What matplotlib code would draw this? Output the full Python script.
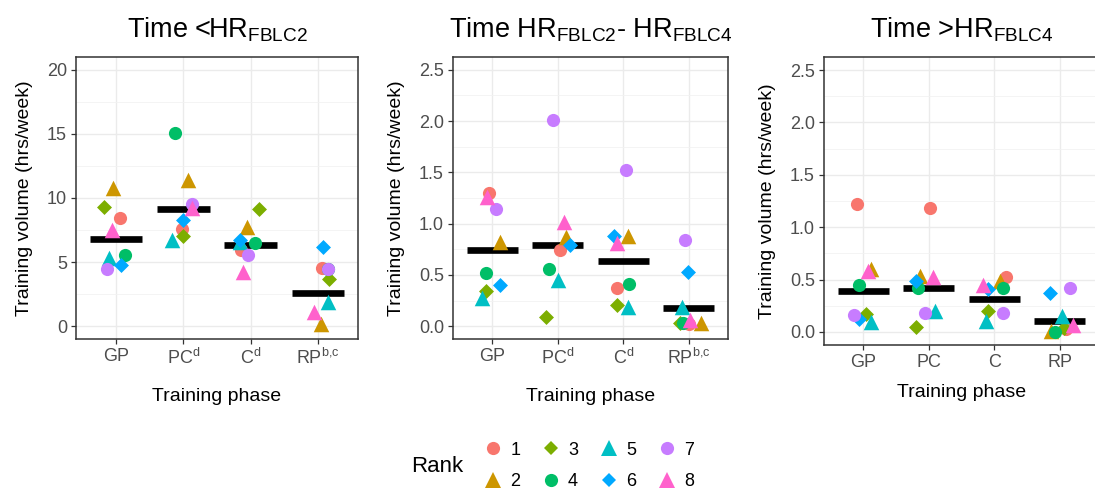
import numpy as np
import matplotlib.pyplot as plt
from matplotlib.lines import Line2D

plt.rcParams['font.family'] = ['Liberation Sans', 'DejaVu Sans']
plt.rcParams['mathtext.fontset'] = 'custom'
plt.rcParams['mathtext.rm'] = 'Liberation Sans'
plt.rcParams['mathtext.it'] = 'Liberation Sans'

RANKS = ['1', '2', '3', '4', '5', '6', '7', '8']
COLORS = ['#F8766D', '#CD9600', '#7CAE00', '#00BE67',
          '#00BFC4', '#00A9FF', '#C77CFF', '#FF61CC']
MARKERS = ['o', '^', 'D', 'o', '^', 'D', 'o', '^']
MSIZE = [90, 125, 58, 90, 125, 58, 90, 125]

TITLES = [r'Time <HR$_{\mathrm{FBLC2}}$',
          r'Time HR$_{\mathrm{FBLC2}}$- HR$_{\mathrm{FBLC4}}$',
          r'Time >HR$_{\mathrm{FBLC4}}$']
PHASE_LABELS = [
    ['GP', r'PC$^{\mathrm{d}}$', r'C$^{\mathrm{d}}$', r'RP$^{\mathrm{b{,}c}}$'],
    ['GP', r'PC$^{\mathrm{d}}$', r'C$^{\mathrm{d}}$', r'RP$^{\mathrm{b{,}c}}$'],
    ['GP', 'PC', 'C', 'RP'],
]

# training volume per phase (GP, PC, C, RP), one value per rank 1..8
BELOW_FBLC2 = [
    [8.41, 10.75, 9.32, 5.55, 5.29, 4.77, 4.50, 7.50],
    [7.60, 11.40, 7.03, 15.10, 6.70, 8.28, 9.50, 9.20],
    [5.94, 7.76, 9.11, 6.46, 6.60, 6.70, 5.55, 4.24],
    [4.56, 0.16, 3.65, 4.45, 1.90, 6.15, 4.45, 1.12],
]
BETWEEN_FBLC = [
    [1.30, 0.82, 0.345, 0.52, 0.27, 0.40, 1.14, 1.26],
    [0.74, 0.87, 0.09, 0.56, 0.45, 0.79, 2.01, 1.02],
    [0.37, 0.88, 0.205, 0.41, 0.19, 0.88, 1.52, 0.81],
    [0.02, 0.03, 0.03, 0.03, 0.19, 0.53, 0.84, 0.06],
]
ABOVE_FBLC4 = [
    [1.22, 0.60, 0.17, 0.45, 0.09, 0.12, 0.16, 0.58],
    [1.18, 0.53, 0.05, 0.42, 0.20, 0.49, 0.18, 0.52],
    [0.52, 0.49, 0.20, 0.42, 0.10, 0.41, 0.18, 0.45],
    [0.03, 0.01, 0.04, 0.00, 0.15, 0.37, 0.42, 0.07],
]

# group summary (black bars)
BAR_BELOW = [6.80, 9.14, 6.30, 2.55]
BAR_BETWEEN = [0.742, 0.794, 0.635, 0.182]
BAR_ABOVE = [0.39, 0.42, 0.317, 0.105]

# horizontal jitter of each point, in category units
JIT_BELOW = [
    [0.05, -0.05, -0.19, 0.13, -0.11, 0.07, -0.14, -0.06],
    [-0.02, 0.07, 0.00, -0.12, -0.17, 0.00, 0.13, 0.13],
    [-0.15, -0.05, 0.12, 0.07, -0.16, -0.16, -0.04, -0.12],
    [0.07, 0.05, 0.17, 0.16, 0.16, 0.08, 0.16, -0.05],
]
JIT_BETWEEN = [
    [-0.05, 0.12, -0.09, -0.10, -0.16, 0.12, 0.06, -0.08],
    [0.03, 0.13, -0.18, -0.13, 0.01, 0.18, -0.07, 0.10],
    [-0.09, 0.07, -0.10, 0.09, 0.07, -0.14, 0.04, -0.09],
    [0.00, 0.18, -0.13, -0.09, -0.10, -0.01, -0.05, 0.02],
]
JIT_ABOVE = [
    [-0.10, 0.12, 0.04, -0.07, 0.12, -0.06, -0.14, 0.07],
    [0.02, -0.14, -0.19, -0.17, 0.09, -0.19, -0.05, 0.06],
    [0.18, 0.09, -0.09, 0.13, -0.12, -0.09, 0.13, -0.17],
    [0.09, -0.14, 0.06, -0.07, 0.04, -0.15, 0.15, 0.21],
]

PANELS = [
    (BELOW_FBLC2, BAR_BELOW, JIT_BELOW, [0, 5, 10, 15, 20], (-1.0, 21.0), '{:.0f}'),
    (BETWEEN_FBLC, BAR_BETWEEN, JIT_BETWEEN, [0, 0.5, 1.0, 1.5, 2.0, 2.5], (-0.125, 2.625), '{:.1f}'),
    (ABOVE_FBLC4, BAR_ABOVE, JIT_ABOVE, [0, 0.5, 1.0, 1.5, 2.0, 2.5], (-0.125, 2.625), '{:.1f}'),
]

# axes boxes in pixels: left, top, right, bottom
BOXES = [(76, 57, 358, 339), (453, 57, 728, 339), (824, 57, 1099, 345)]
XLABEL_PAD = [14, 14, 9.5]
W, H = 1095, 497

fig = plt.figure(figsize=(W / 100, H / 100), dpi=100)

for k, (vals, bars, jit, yticks, ylim, fmt) in enumerate(PANELS):
    l, t, r, b = BOXES[k]
    ax = fig.add_axes([l / W, 1 - b / H, (r - l) / W, (b - t) / H])
    ax.set_xlim(-0.6, 3.6)
    ax.set_ylim(*ylim)

    ax.set_xticks(range(4))
    ax.set_xticklabels(PHASE_LABELS[k])
    ax.set_yticks(yticks)
    ax.set_yticklabels([fmt.format(v) for v in yticks])
    step = yticks[1] - yticks[0]
    ax.set_yticks([v + step / 2 for v in yticks[:-1]], minor=True)

    ax.grid(True, which='major', color='#EBEBEB', lw=1.0, zorder=0)
    ax.grid(True, which='minor', axis='y', color='#F2F2F2', lw=0.6, zorder=0)
    ax.set_axisbelow(True)
    for s in ax.spines.values():
        s.set_color('#333333')
        s.set_linewidth(1.1)
    ax.tick_params(which='major', length=3.5, width=0.9, color='#333333',
                   labelsize=13, labelcolor='#4D4D4D', pad=3)
    ax.tick_params(which='minor', length=0)

    for i in range(4):
        ax.hlines(bars[i], i - 0.39, i + 0.39, color='black', lw=4.8, zorder=2)
    for j in range(len(RANKS)):
        xs = [i + jit[i][j] for i in range(4)]
        ys = [vals[i][j] for i in range(4)]
        ax.scatter(xs, ys, s=MSIZE[j], marker=MARKERS[j], color=COLORS[j],
                   linewidths=0, zorder=3)

    ax.set_title(TITLES[k], fontsize=19.5, pad=14)
    ax.set_xlabel('Training phase', fontsize=14, labelpad=XLABEL_PAD[k])
    ax.set_ylabel('Training volume (hrs/week)', fontsize=14, labelpad=10)

handles = [Line2D([], [], ls='none', marker=MARKERS[j], color=COLORS[j],
                  markersize=np.sqrt(MSIZE[j]), markeredgewidth=0)
           for j in range(len(RANKS))]
fig.legend(handles, RANKS, ncol=4, frameon=False, fontsize=13,
           loc='center left', bbox_to_anchor=(466 / W, 1 - 466 / H),
           handletextpad=0.35, columnspacing=1.1, labelspacing=0.8,
           handlelength=1.2)
fig.text(411 / W, 1 - 467 / H, 'Rank', fontsize=16, va='center', ha='left')

fig.savefig('out.png', dpi=100)
